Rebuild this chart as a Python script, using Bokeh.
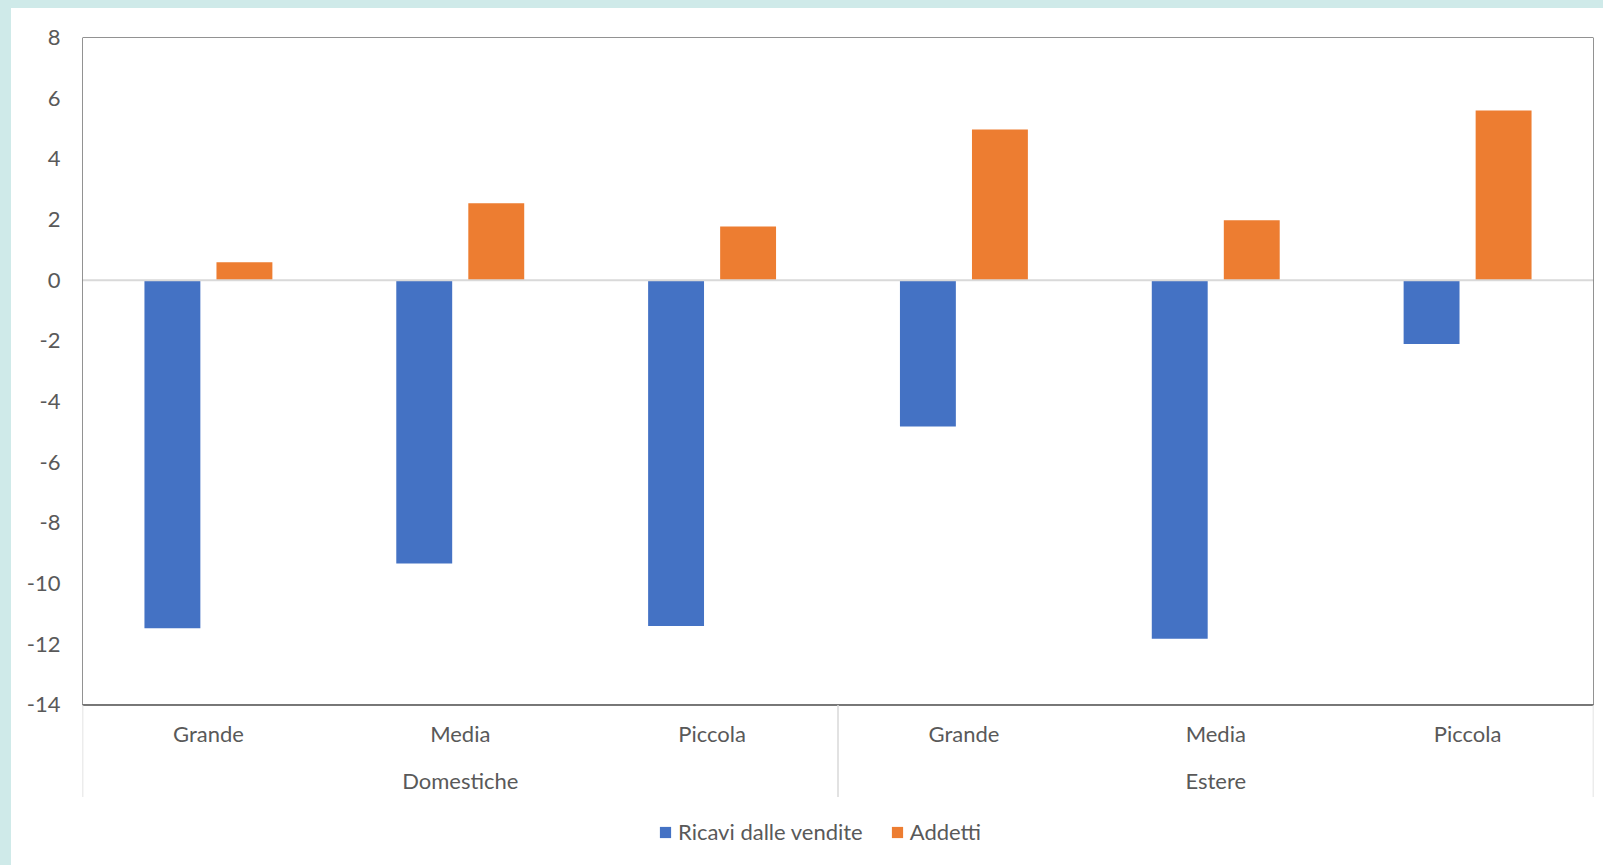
from bokeh.plotting import figure
from bokeh.models import Range1d, FixedTicker, Legend, LegendItem, ColumnDataSource
from bokeh.core.properties import value
from bokeh.embed import file_html
from bokeh.resources import INLINE

# ---- data ----
groups = ["Domestiche", "Estere"]
sizes = ["Grande", "Media", "Piccola"]
ricavi = [-11.47, -9.34, -11.40, -4.82, -11.82, -2.10]
addetti = [0.59, 2.54, 1.77, 4.97, 1.98, 5.59]
y_ticks = [-14, -12, -10, -8, -6, -4, -2, 0, 2, 4, 6, 8]
series_names = ["Ricavi dalle vendite", "Addetti"]

BLUE = "#4472C4"
ORANGE = "#ED7D31"
TXT = "#595959"
FONT = "Lato"
FS = "22px"

n_cat = len(groups) * len(sizes)
cats = [(g, s) for g in groups for s in sizes]
xc = [i + 0.5 for i in range(n_cat)]

W, H = 1592, 857
top_b, left_b, right_b = 29, 71, 10
frame_h = H - top_b
px_per_unit = 30.34
y_end = y_ticks[-1]
y_start = y_end - frame_h / px_per_unit

p = figure(width=W, height=H, output_backend="svg", toolbar_location=None,
           x_range=Range1d(0, n_cat), y_range=Range1d(y_start, y_end),
           x_axis_location=None, min_border_top=top_b, min_border_left=left_b,
           min_border_right=right_b, min_border_bottom=0)
p.styles = {"background-color": "white"}
p.outline_line_color = None
p.background_fill_color = "white"
p.border_fill_color = "white"
p.xgrid.visible = False
p.ygrid.visible = False

ya = p.yaxis[0]
ya.ticker = FixedTicker(ticks=y_ticks)
ya.major_label_overrides = {t: str(t) for t in y_ticks}
ya.axis_line_color = None
ya.major_tick_line_color = None
ya.minor_tick_line_color = None
ya.major_tick_out = 0
ya.major_tick_in = 0
ya.major_label_standoff = 22
ya.major_label_text_font = FONT
ya.major_label_text_font_size = FS
ya.major_label_text_color = TXT

# bars
off = 0.143
bw = 0.222
src = ColumnDataSource(dict(xb=[x - off for x in xc], xo=[x + off for x in xc],
                            ricavi=ricavi, addetti=addetti))
r1 = p.vbar(x="xb", top="ricavi", bottom=0, width=bw, source=src,
            fill_color=BLUE, line_color=None)
r2 = p.vbar(x="xo", top="addetti", bottom=0, width=bw, source=src,
            fill_color=ORANGE, line_color=None)

# zero line
p.segment(x0=[0], y0=[0], x1=[n_cat], y1=[0], line_color="#d9d9d9", line_width=2)

# plot box
p.quad(left=[0], right=[n_cat], bottom=[y_ticks[0]], top=[y_ticks[-1]],
       fill_color=None, line_color="#262626", line_width=1)
p.segment(x0=[0], y0=[y_ticks[0]], x1=[n_cat], y1=[y_ticks[0]],
          line_color="#6f6f6f", line_width=1.6)

# category axis (drawn below box)
sep_bottom = y_ticks[0] - 92 / px_per_unit
sub_y = y_ticks[0] - 29 / px_per_unit
grp_y = y_ticks[0] - 76 / px_per_unit
sep_x = [i * len(sizes) for i in range(len(groups) + 1)]
p.segment(x0=sep_x, y0=[y_ticks[0]] * len(sep_x), x1=sep_x, y1=[sep_bottom] * len(sep_x),
          line_color="#d9d9d9", line_width=1.5)
p.text(x=xc, y=[sub_y] * n_cat, text=[c[1] for c in cats], text_font=value(FONT),
       text_font_size=FS, text_color=TXT, text_align="center", text_baseline="middle")
gx = [i * len(sizes) + len(sizes) / 2 for i in range(len(groups))]
p.text(x=gx, y=[grp_y] * len(groups), text=groups, text_font=value(FONT),
       text_font_size=FS, text_color=TXT, text_align="center", text_baseline="middle")

legend = Legend(items=[LegendItem(label=series_names[0], renderers=[r1]),
                       LegendItem(label=series_names[1], renderers=[r2])],
                orientation="horizontal", location=(576, 20))
legend.label_text_font = FONT
legend.label_text_font_size = FS
legend.label_text_color = TXT
legend.glyph_width = 14
legend.glyph_height = 14
legend.label_standoff = 6
legend.spacing = 27
legend.padding = 0
legend.margin = 0
legend.border_line_color = None
legend.background_fill_alpha = 0
p.add_layout(legend)

html = file_html(p, INLINE)
html = html.replace(
    "</head>",
    "<style>html,body{background:#cfeae9;overflow:hidden;}body{padding:8px 0 0 11px !important;}</style></head>",
    1)
open("out.html", "w").write(html)
